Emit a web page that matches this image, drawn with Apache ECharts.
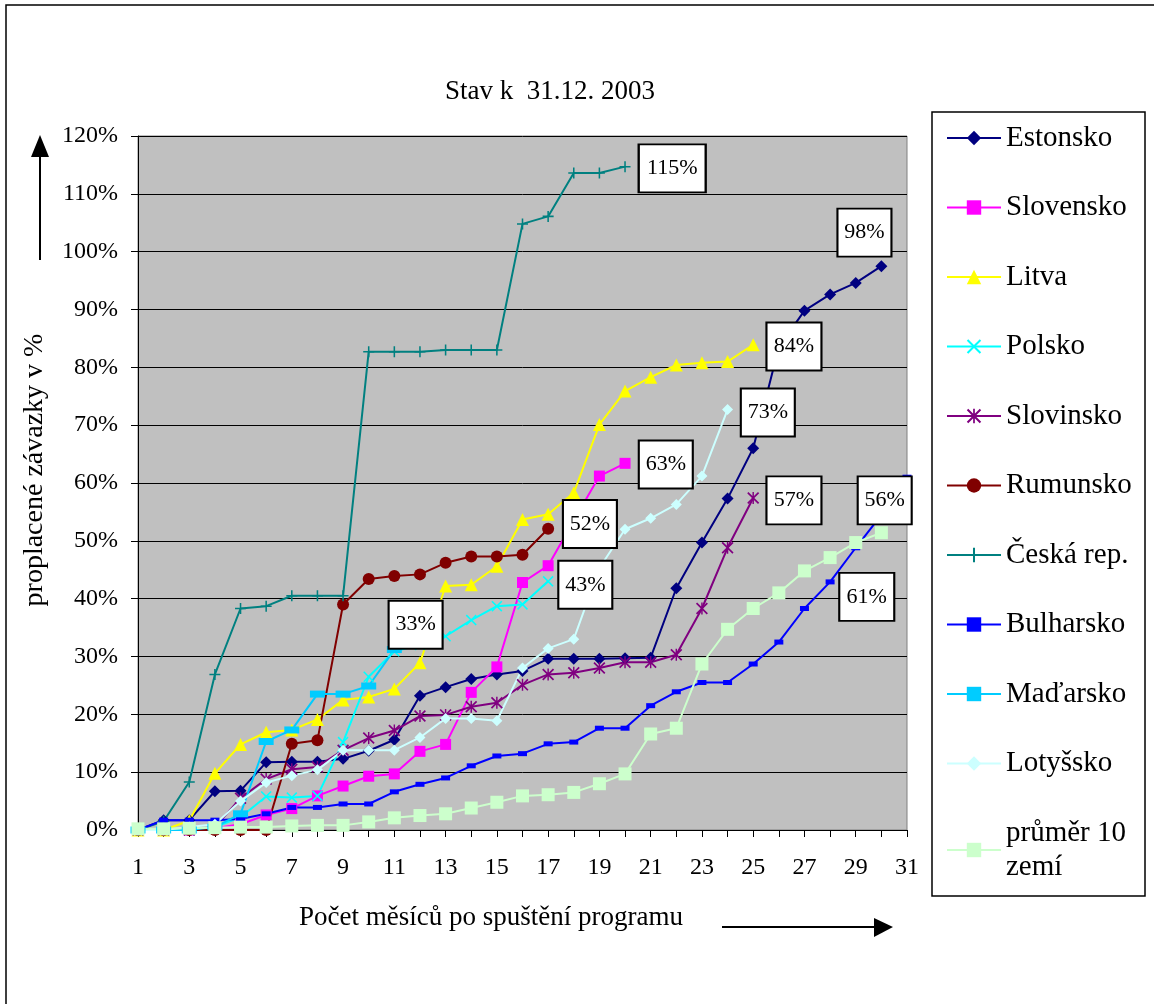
<!DOCTYPE html>
<html lang="cs">
<head>
  <meta charset="UTF-8">
  <title>Stav k 31.12. 2003</title>
  <style>
    html, body { margin: 0; padding: 0; background: #fff; }
    #main { width: 1154px; height: 1004px; }
  </style>
</head>
<body>
  <div id="main"></div>
  <script src="https://cdn.jsdelivr.net/npm/echarts@6/dist/echarts.min.js"></script>
  <script>
    // months after programme launch
    var months = [1, 2, 3, 4, 5, 6, 7, 8, 9, 10, 11, 12, 13, 14, 15, 16, 17, 18, 19, 20,
      21, 22, 23, 24, 25, 26, 27, 28, 29, 30, 31];

    // paid commitments in %
    var estonsko = [0, 1.7, 1.7, 6.7, 6.8, 11.7, 11.8, 11.8, 12.3, 13.7, 15.6, 23.2, 24.7, 26.1, 26.9,
      27.5, 29.6, 29.6, 29.6, 29.7, 29.8, 41.8, 49.7, 57.3, 66.0, 83.5, 89.8, 92.6, 94.6, 97.5];
    var slovensko = [0, 0, 0, 0.3, 1.0, 2.6, 3.7, 5.9, 7.6, 9.3, 9.7, 13.6, 14.8, 23.8, 28.2,
      42.8, 45.7, 53.5, 61.2, 63.4];
    var litva = [0, 0, 1.6, 9.8, 14.8, 16.9, 17.3, 19.1, 22.5, 23.0, 24.4, 28.9, 42.2, 42.4, 45.6,
      53.7, 54.6, 58.3, 70.1, 75.9, 78.3, 80.4, 80.8, 81.0, 83.9];
    var polsko = [0, 0, 0, 0.5, 2.2, 5.8, 5.6, 5.9, 15.2, 26.5, 30.9, 32.0, 33.5, 36.3, 38.7, 39.0, 43.0];
    var slovinsko = [0, 0, 0, 0.5, 5.5, 8.8, 10.5, 10.9, 13.8, 15.9, 17.2, 19.7, 19.9, 21.3, 22.0,
      25.1, 26.9, 27.2, 28.0, 29.0, 29.0, 30.3, 38.3, 48.8, 57.4];
    var rumunsko = [0, 0, 0, 0, 0, 0, 14.9, 15.5, 39.0, 43.4, 43.9, 44.2, 46.2, 47.3, 47.3, 47.6, 52.1];
    var ceska = [0, 1.5, 8.3, 26.9, 38.3, 38.7, 40.5, 40.5, 40.5, 82.7, 82.7, 82.7, 83.0, 83.0, 83.0,
      104.8, 106.1, 113.6, 113.6, 114.7];
    var bulharsko = [0, 1.7, 1.7, 1.7, 1.9, 2.8, 3.9, 3.9, 4.5, 4.5, 6.6, 7.9, 9.0, 11.1, 12.8,
      13.2, 14.9, 15.2, 17.6, 17.6, 21.5, 23.9, 25.5, 25.5, 28.7, 32.5, 38.3, 42.9, 48.8, 54.5, 61.0];
    var madarsko = [0, 0, 0, 0.5, 2.8, 15.3, 17.3, 23.5, 23.5, 24.9, 31.2];
    var lotyssko = [0, 0, 0.5, 1.0, 5.0, 8.2, 9.4, 10.4, 13.8, 13.8, 13.8, 16.0, 19.3, 19.3, 18.9,
      28.0, 31.4, 33.0, 45.3, 52.0, 53.9, 56.3, 61.2, 72.7];
    var prumer = [0.2, 0.2, 0.3, 0.4, 0.5, 0.5, 0.7, 0.8, 0.8, 1.4, 2.1, 2.5, 2.8, 3.8, 4.8,
      5.9, 6.1, 6.5, 8.0, 9.7, 16.6, 17.6, 28.7, 34.7, 38.3, 41.0, 44.8, 47.1, 49.7, 51.4];

    // callout texts as printed in the boxes
    var calloutTexts = ['98%', '63%', '84%', '43%', '57%', '52%', '115%', '61%', '33%', '73%', '56%'];

    var FONT = '"Liberation Serif", "Times New Roman", serif';
    var myChart = echarts.init(document.getElementById('main'));

    var X_PATH = 'path://M0,1L1,0L5,4L9,0L10,1L6,5L10,9L9,10L5,6L1,10L0,9L4,5Z';
    var STAR_PATH = 'path://M0,1L1,0L5,4L9,0L10,1L6,5L10,9L9,10L5,6L1,10L0,9L4,5Z M4.4,0L5.6,0L5.6,10L4.4,10Z';
    var PLUS_PATH = 'path://M4.3,0L5.7,0L5.7,4.3L10,4.3L10,5.7L5.7,5.7L5.7,10L4.3,10L4.3,5.7L0,5.7L0,4.3L4.3,4.3Z';

    var defs = [
      { name: 'Estonsko', data: estonsko, color: '#000080', symbol: 'diamond', size: 12, box: [29.34, 103.3, 54] },
      { name: 'Slovensko', data: slovensko, color: '#ff00ff', symbol: 'rect', size: 11, box: [21.59, 63.2, 54] },
      { name: 'Litva', data: litva, color: '#ffff00', symbol: 'triangle', size: 13, box: [26.59, 83.6, 55] },
      { name: 'Polsko', data: polsko, color: '#00ffff', symbol: X_PATH, size: 11, box: [18.45, 42.4, 54] },
      { name: 'Slovinsko', data: slovinsko, color: '#800080', symbol: STAR_PATH, size: 12, box: [26.59, 57.0, 55] },
      { name: 'Rumunsko', data: rumunsko, color: '#800000', symbol: 'circle', size: 12, box: [18.63, 52.9, 54] },
      { name: 'Česká rep.', data: ceska, color: '#008080', symbol: PLUS_PATH, size: 11, box: [21.84, 114.4, 67] },
      { name: 'Bulharsko', data: bulharsko, color: '#0000ff', symbol: 'rect', size: [9, 5], box: [29.43, 40.3, 55] },
      { name: 'Maďarsko', data: madarsko, color: '#00ccff', symbol: 'rect', size: [15, 7], box: [11.83, 35.5, 54] },
      { name: 'Lotyšsko', data: lotyssko, color: '#ccffff', symbol: 'diamond', size: 11, box: [25.57, 72.2, 54] },
      { name: 'průměr 10 zemí', data: prumer, color: '#ccffcc', symbol: 'rect', size: 13, box: [30.13, 57.0, 54] }
    ];

    function toPairs(values) {
      var out = [];
      for (var i = 0; i < values.length; i++) {
        if (values[i] != null) out.push([months[i], values[i]]);
      }
      return out;
    }

    var series = defs.map(function (d, i) {
      return {
        type: 'line',
        name: d.name,
        data: toPairs(d.data),
        color: d.color,
        symbol: d.symbol,
        symbolSize: d.size,
        lineStyle: { color: d.color, width: 2 },
        itemStyle: { color: d.color },
        animation: false,
        markPoint: {
          silent: true,
          symbol: 'rect',
          symbolSize: [d.box[2], 48],
          itemStyle: { color: '#fff', borderColor: '#000', borderWidth: 2 },
          label: {
            show: true,
            formatter: calloutTexts[i],
            color: '#000',
            fontFamily: FONT,
            fontSize: 22
          },
          data: [{ coord: [d.box[0], d.box[1]] }]
        }
      };
    });

    var option = {
      backgroundColor: '#fff',
      animation: false,
      title: {
        text: 'Stav k  31.12. 2003',
        left: 440,
        top: 73,
        textStyle: { fontFamily: FONT, fontSize: 27, fontWeight: 'normal', color: '#000' }
      },
      grid: {
        left: 138,
        right: 247,
        top: 136,
        bottom: 174,
        show: true,
        backgroundColor: '#c0c0c0',
        borderColor: '#808080',
        borderWidth: 1
      },
      legend: {
        orient: 'vertical',
        left: 946,
        top: 121,
        padding: 0,
        itemWidth: 54,
        itemHeight: 18,
        itemGap: 35.5,
        data: defs.map(function (d) { return d.name; }),
        formatter: function (n) { return n === 'průměr 10 zemí' ? 'průměr 10\nzemí' : n; },
        textStyle: { fontFamily: FONT, fontSize: 29, color: '#000', lineHeight: 34 }
      },
      xAxis: {
        type: 'value',
        min: 1,
        max: 31,
        interval: 1,
        axisLine: { show: true, lineStyle: { color: '#000', width: 1 } },
        axisTick: { show: true, length: 7, lineStyle: { color: '#000' } },
        splitLine: { show: false },
        axisLabel: {
          margin: 26,
          color: '#000',
          fontFamily: FONT,
          fontSize: 24,
          formatter: function (v) { return v % 2 === 1 ? String(v) : ''; }
        }
      },
      yAxis: {
        type: 'value',
        min: 0,
        max: 120,
        interval: 10,
        axisLine: { show: true, lineStyle: { color: '#000', width: 1 } },
        axisTick: { show: true, length: 7, lineStyle: { color: '#000' } },
        splitLine: { show: true, lineStyle: { color: '#000', width: 1 } },
        axisLabel: {
          margin: 20,
          color: '#000',
          fontFamily: FONT,
          fontSize: 24,
          formatter: '{value}%'
        }
      },
      graphic: [
        {
          type: 'rect', silent: true, z: -10,
          shape: { x: 6, y: 5, width: 1300, height: 1200 },
          style: { fill: null, stroke: '#000', lineWidth: 1.5 }
        },
        {
          type: 'rect', silent: true, z: -1,
          shape: { x: 932, y: 112, width: 213, height: 784 },
          style: { fill: '#fff', stroke: '#000', lineWidth: 1.5 }
        },
        {
          type: 'text', silent: true,
          x: 35, y: 470, rotation: Math.PI / 2,
          style: {
            text: 'proplacené závazky v %', font: '28px ' + FONT, fill: '#000',
            textAlign: 'center', textVerticalAlign: 'middle'
          }
        },
        {
          type: 'text', silent: true,
          x: 491, y: 918,
          style: {
            text: 'Počet měsíců po spuštění programu', font: '27px ' + FONT, fill: '#000',
            textAlign: 'center', textVerticalAlign: 'middle'
          }
        },
        // vertical arrow
        {
          type: 'line', silent: true,
          shape: { x1: 40, y1: 260, x2: 40, y2: 150 },
          style: { stroke: '#000', lineWidth: 2 }
        },
        {
          type: 'polygon', silent: true,
          shape: { points: [[31, 157], [49, 157], [40, 135]] },
          style: { fill: '#000' }
        },
        // horizontal arrow
        {
          type: 'line', silent: true,
          shape: { x1: 722, y1: 927, x2: 878, y2: 927 },
          style: { stroke: '#000', lineWidth: 2 }
        },
        {
          type: 'polygon', silent: true,
          shape: { points: [[874, 918], [874, 937], [893, 927]] },
          style: { fill: '#000' }
        }
      ],
      series: series
    };

    myChart.setOption(option);
  </script>
</body>
</html>
